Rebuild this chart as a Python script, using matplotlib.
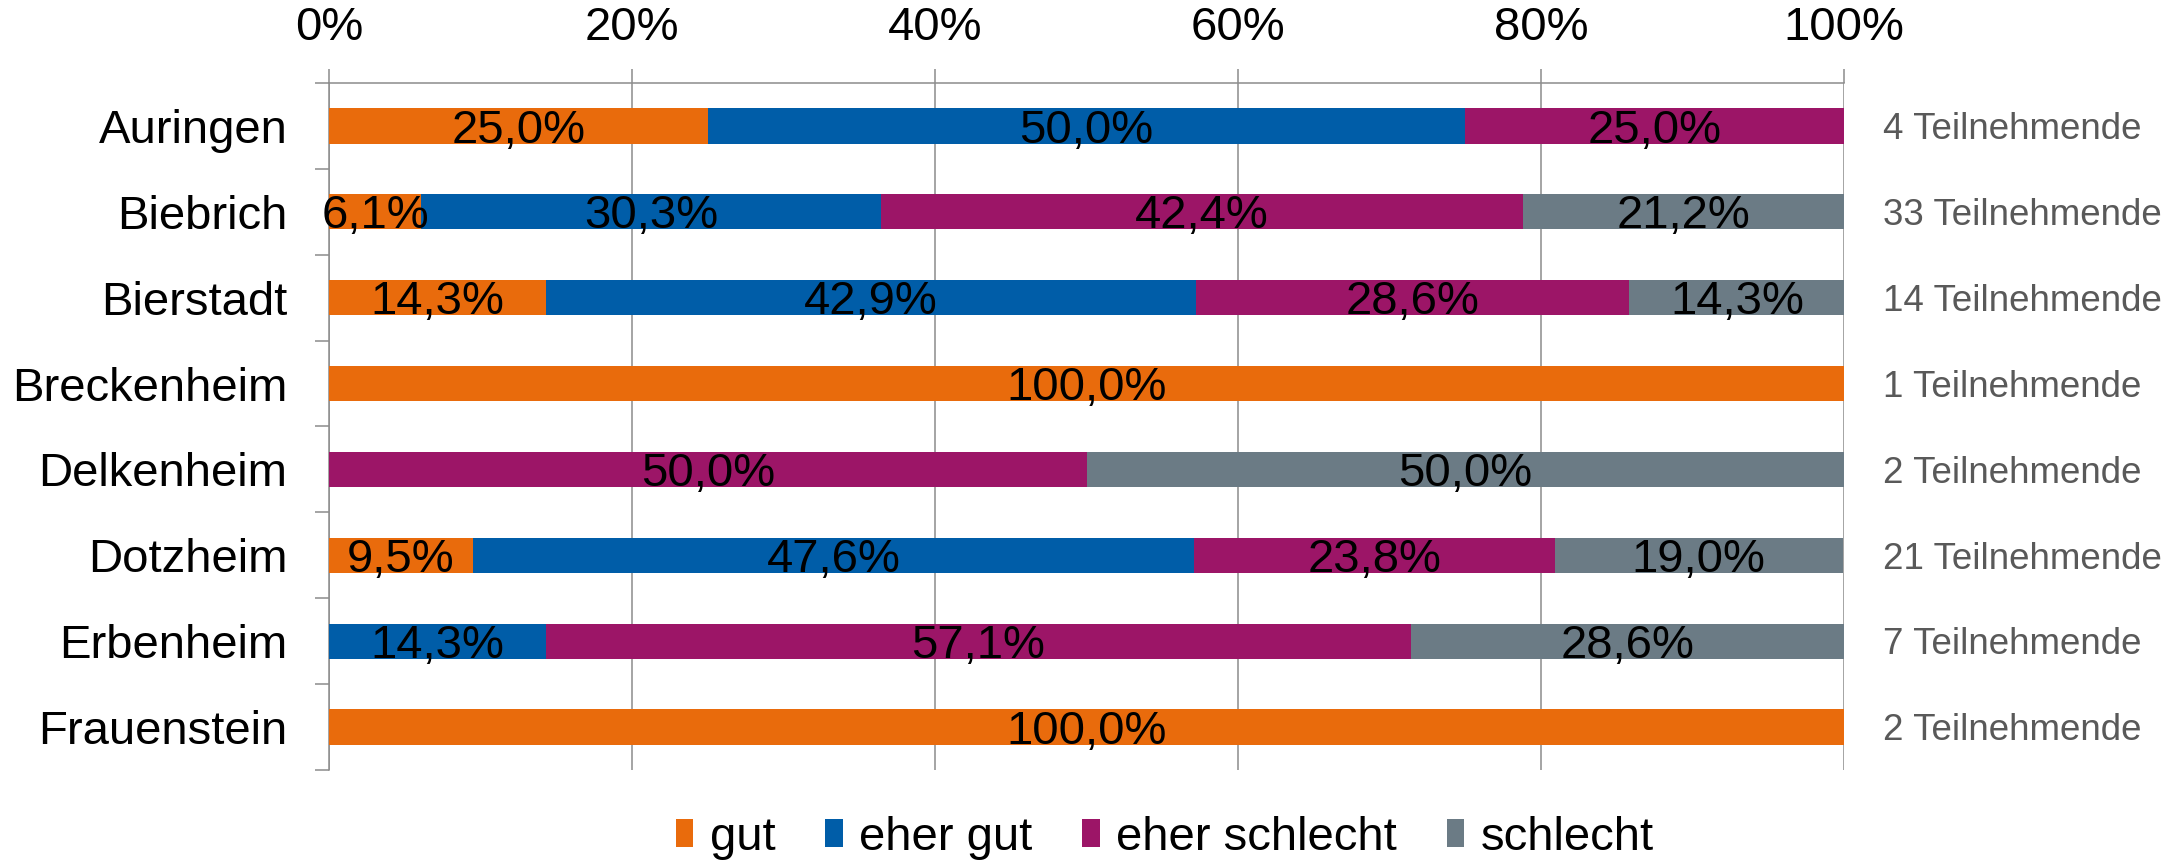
import matplotlib.pyplot as plt
import numpy as np
from matplotlib.ticker import FixedLocator, PercentFormatter

plt.rcParams['font.family'] = ['Liberation Sans', 'DejaVu Sans']

# data
districts = ['Auringen', 'Biebrich', 'Bierstadt', 'Breckenheim',
             'Delkenheim', 'Dotzheim', 'Erbenheim', 'Frauenstein']
gut = [25.0, 6.1, 14.3, 100.0, 0.0, 9.5, 0.0, 100.0]
eher_gut = [50.0, 30.3, 42.9, 0.0, 0.0, 47.6, 14.3, 0.0]
eher_schlecht = [25.0, 42.4, 28.6, 0.0, 50.0, 23.8, 57.1, 0.0]
schlecht = [0.0, 21.2, 14.3, 0.0, 50.0, 19.0, 28.6, 0.0]
participants = [4, 33, 14, 1, 2, 21, 7, 2]

series_names = ['gut', 'eher gut', 'eher schlecht', 'schlecht']
colors = ['#E96B0C', '#005DA8', '#9C1567', '#6B7B85']
grid_col = '#8C8C8C'

fig = plt.figure(figsize=(21.69, 8.61), dpi=100)
ax = fig.add_axes([0.1517, 0.1057, 0.8502 - 0.1517, 0.9036 - 0.1057])

y = np.arange(len(districts))
left = np.zeros(len(districts))
for name, vals, col in zip(series_names, [gut, eher_gut, eher_schlecht, schlecht], colors):
    vals = np.array(vals)
    ax.barh(y, vals, left=left, height=0.41, color=col, label=name, zorder=3)
    for yi, l, v in zip(y, left, vals):
        if v > 0:
            # digits centred on the bar: baseline shifted down by half the cap height
            ax.annotate(f'{v:.1f}%'.replace('.', ','), (l + v / 2, yi),
                        xytext=(0, -12), textcoords='offset points',
                        ha='center', va='baseline', fontsize=34, color='black', zorder=4)
    left += vals

# participant counts on the right
for yi, n in zip(y, participants):
    ax.annotate(f'{n} Teilnehmende', (1.026, yi), xycoords=ax.get_yaxis_transform(),
                xytext=(0, -9.5), textcoords='offset points',
                ha='left', va='baseline', fontsize=26.5, color='#595959')

ax.set_xlim(0, 100)
ax.set_ylim(len(districts) - 0.5, -0.5)

ax.xaxis.set_major_locator(FixedLocator([0, 20, 40, 60, 80, 100]))
ax.xaxis.set_major_formatter(PercentFormatter(decimals=0))
ax.xaxis.tick_top()
ax.tick_params(axis='x', which='major', length=10, width=1.1, color=grid_col,
               labelsize=34, pad=14)
ax.grid(axis='x', color=grid_col, linewidth=1.1, zorder=0)

ax.set_yticks(y)
ax.set_yticklabels(districts)
ax.yaxis.set_minor_locator(FixedLocator(np.arange(-0.5, len(districts), 1.0)))
ax.tick_params(axis='y', which='major', length=0, labelsize=34, pad=30)
ax.tick_params(axis='y', which='minor', length=10, width=1.1, color=grid_col)

for s in ['right', 'bottom']:
    ax.spines[s].set_visible(False)
for s in ['top', 'left']:
    ax.spines[s].set_color(grid_col)
    ax.spines[s].set_linewidth(1.1)

fig.legend(loc='center', bbox_to_anchor=(0.537, 0.027), ncol=4, frameon=False,
           fontsize=34, handlelength=0.375, handleheight=0.55,
           handletextpad=0.35, columnspacing=1.05)

fig.savefig('out.png', dpi=100)
